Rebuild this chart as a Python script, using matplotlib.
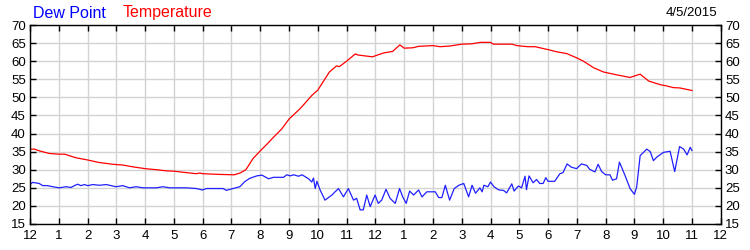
import matplotlib
matplotlib.use("Agg")
import matplotlib.pyplot as plt

plt.rcParams["font.family"] = ["Liberation Sans", "DejaVu Sans"]

# hours since midnight and temperature (F)
temp_hours = [0.0, 0.15, 0.33, 0.67, 1.0, 1.2, 1.6, 2.0, 2.4, 2.88, 3.22, 3.57, 4.0, 4.4,
              4.73, 5.0, 5.43, 5.78, 5.9, 6.0, 6.6, 7.1, 7.3, 7.5, 7.75, 8.0, 8.25, 8.5,
              8.75, 9.0, 9.4, 9.8, 10.0, 10.4, 10.65, 10.75, 11.0, 11.3, 11.4, 11.9, 12.0,
              12.3, 12.6, 12.85, 13.0, 13.3, 13.5, 14.0, 14.25, 14.6, 15.0, 15.35, 15.65,
              16.0, 16.1, 16.75, 16.92, 17.3, 17.55, 18.0, 18.3, 18.65, 19.0, 19.23, 19.58,
              19.93, 20.4, 20.85, 21.0, 21.2, 21.5, 21.9, 22.1, 22.35, 22.58, 23.0]
temp_vals = [35.7, 35.7, 35.2, 34.5, 34.3, 34.3, 33.3, 32.7, 32.0, 31.5, 31.3, 30.8, 30.3, 30.0,
             29.7, 29.6, 29.2, 28.9, 29.1, 28.9, 28.7, 28.6, 29.1, 30.0, 33.1, 35.2, 37.2, 39.3,
             41.3, 44.0, 47.0, 50.6, 52.0, 57.0, 58.7, 58.5, 60.0, 62.0, 61.7, 61.2, 61.5,
             62.3, 62.7, 64.5, 63.6, 63.7, 64.1, 64.3, 64.0, 64.2, 64.7, 64.8, 65.2,
             65.2, 64.7, 64.7, 64.3, 64.0, 64.0, 63.2, 62.6, 62.1, 60.9, 60.0, 58.2,
             57.0, 56.2, 55.5, 55.9, 56.4, 54.5, 53.5, 53.2, 52.7, 52.6, 51.9]

# hours since midnight and dew point (F)
dew_hours = [0.0, 0.09, 0.32, 0.44, 0.61, 0.79, 1.02, 1.25, 1.43, 1.54, 1.66, 1.77, 1.89, 2.01,
             2.18, 2.41, 2.65, 2.82, 2.99, 3.22, 3.46, 3.69, 3.92, 4.39, 4.62, 4.85, 5.43,
             5.78, 5.99, 6.13, 6.71, 6.82, 7.05, 7.29, 7.46, 7.63, 7.88, 8.06, 8.29, 8.46,
             8.81, 8.92, 9.04, 9.16, 9.33, 9.45, 9.68, 9.79, 9.85, 9.91, 9.97, 10.08, 10.25,
             10.49, 10.6, 10.72, 10.89, 11.06, 11.24, 11.35, 11.47, 11.58, 11.7, 11.82, 11.99,
             12.1, 12.22, 12.37, 12.51, 12.69, 12.84, 12.95, 13.07, 13.19, 13.33, 13.5, 13.62,
             13.79, 14.08, 14.2, 14.31, 14.43, 14.58, 14.74, 14.9, 15.07, 15.24, 15.36, 15.48,
             15.63, 15.71, 15.77, 15.91, 16.0, 16.12, 16.29, 16.45, 16.56, 16.74, 16.82,
             16.97, 17.08, 17.2, 17.25, 17.34, 17.48, 17.6, 17.71, 17.83, 17.92, 18.0, 18.23,
             18.41, 18.52, 18.66, 18.81, 18.99, 19.16, 19.34, 19.45, 19.63, 19.74, 19.86,
             20.0, 20.15, 20.24, 20.38, 20.48, 20.67, 20.85, 21.0, 21.08, 21.2, 21.43, 21.55,
             21.66, 21.78, 22.01, 22.24, 22.4, 22.57, 22.71, 22.83, 22.94, 23.0]
dew_vals = [25.9, 26.5, 26.2, 25.6, 25.6, 25.3, 25.0, 25.3, 25.1, 25.6, 26.0, 25.6, 25.9, 25.6,
            25.9, 25.7, 25.9, 25.6, 25.3, 25.6, 25.0, 25.3, 25.0, 25.0, 25.3, 25.0, 25.0,
            24.8, 24.4, 24.8, 24.8, 24.3, 24.8, 25.3, 26.7, 27.6, 28.3, 28.5, 27.5, 27.9,
            27.9, 28.6, 28.3, 28.6, 28.2, 28.6, 27.5, 26.6, 27.7, 24.8, 26.8, 24.4, 21.6,
            23.0, 23.9, 24.8, 22.5, 24.8, 21.6, 22.1, 18.9, 18.9, 23.0, 19.8, 23.0,
            20.7, 21.6, 24.6, 22.1, 20.7, 24.8, 22.5, 20.7, 24.1, 23.0, 24.4, 22.5,
            23.9, 23.9, 22.3, 22.3, 25.7, 21.6, 24.8, 25.7, 26.2, 22.5, 25.7, 23.5,
            25.0, 23.9, 25.7, 25.3, 26.6, 25.3, 24.4, 24.3, 23.6, 26.1, 24.1,
            25.5, 25.0, 28.2, 24.5, 28.3, 26.4, 27.3, 26.2, 26.2, 27.8, 26.8, 26.8,
            28.9, 29.2, 31.6, 30.7, 30.3, 31.6, 31.2, 30.1, 29.4, 31.5, 29.5,
            28.6, 28.6, 27.1, 27.5, 32.1, 28.5, 24.8, 23.2, 25.3, 33.9, 35.7, 35.0,
            32.5, 33.5, 34.8, 35.1, 29.5, 36.4, 35.7, 34.1, 36.2, 35.3]

hour_labels = ["12", "1", "2", "3", "4", "5", "6", "7", "8", "9", "10", "11",
               "12", "1", "2", "3", "4", "5", "6", "7", "8", "9", "10", "11", "12"]
y_ticks = list(range(15, 75, 5))

fig = plt.figure(figsize=(7.5, 2.5), dpi=100)
ax = fig.add_axes([0.04, 0.104, 0.921, 0.796])

ax.plot(temp_hours, temp_vals, color="#ff0000", lw=0.9)
ax.plot(dew_hours, dew_vals, color="#2020ff", lw=0.9)

ax.set_xlim(0, 24)
ax.set_ylim(15, 70)
ax.set_xticks(range(25))
ax.set_xticklabels(hour_labels)
ax.set_yticks(y_ticks)
ax.grid(True, color="#d3d3d3", lw=1.0)
ax.set_axisbelow(True)
ax.tick_params(axis="x", direction="in", top=True, length=4, width=1,
               labelsize=9.5, pad=4)
ax.tick_params(axis="y", direction="in", right=True, labelright=True, length=4,
               width=1, labelsize=9.5, pad=3)
for s in ax.spines.values():
    s.set_linewidth(1)
    s.set_color("black")

fig.text(0.044, 0.948, "Dew Point", color="#0000ff", fontsize=11.5, va="center")
fig.text(0.164, 0.948, "Temperature", color="#ff0000", fontsize=11.5, va="center")
fig.text(0.957, 0.948, "4/5/2015", color="black", fontsize=9.5, va="center", ha="right")

fig.savefig("out.png", dpi=100)
